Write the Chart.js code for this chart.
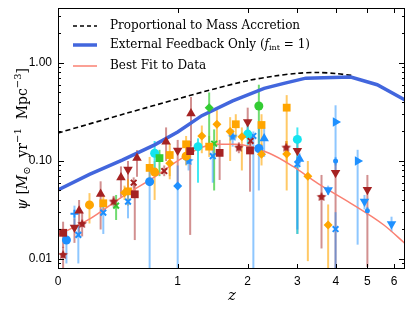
<!DOCTYPE html>
<html><head><meta charset="utf-8">
<script src="https://cdn.jsdelivr.net/npm/chart.js@4.4.0/dist/chart.umd.min.js"></script>
<style>html,body{margin:0;padding:0;background:#fff;}#wrap{width:415px;height:312px;position:relative;}</style>
</head><body><div id="wrap"><canvas id="c" width="415" height="312"></canvas></div>
<script>
// ---------- tick labels ----------
const xTickZ = [0, 1, 2, 3, 4, 5, 6];
const yTicks = [0.01, 0.1, 1];

// ---------- model curves ----------
const accretionZ   = [0, 0.5, 1, 1.5, 2, 2.5, 3, 3.5, 4, 4.5];
const accretionPsi = [0.193, 0.31, 0.43, 0.55, 0.66, 0.735, 0.785, 0.80, 0.78, 0.745];
const feedbackZ    = [0, 0.2, 0.45, 0.75, 1.0, 1.3, 1.75, 2.3, 2.7, 3.2, 4.45, 5.35, 6.46];
const feedbackPsi  = [0.0506, 0.073, 0.102, 0.146, 0.198, 0.29, 0.41, 0.55, 0.62, 0.70, 0.72, 0.60, 0.42];
const fitZ   = [0, 0.19, 0.45, 0.75, 1.0, 1.3, 1.55, 1.8, 2.4, 2.9, 3.5, 4.45, 5.6, 6.46];
const fitPsi = [0.0176, 0.025, 0.043, 0.069, 0.1, 0.138, 0.148, 0.148, 0.12, 0.088, 0.059, 0.037, 0.0222, 0.0144];

// ---------- observations (z, psi, lower, upper) ----------
const redUpZ = [0.13, 0.28, 0.44, 0.58, 0.87, 1.16];
const redUpPsi = [0.031, 0.046, 0.068, 0.107, 0.157, 0.306];
const redUpLo = [0.017, 0.020, 0.043, 0.069, 0.10, 0.14];
const redUpHi = [0.040, 0.062, 0.088, 0.129, 0.22, 0.45];

const redDownZ = [0.10, 0.50, 1.00, 2.00, 3.00, 3.99, 5.00];
const redDownPsi = [0.021, 0.082, 0.128, 0.25, 0.127, 0.076, 0.051];
const redDownLo = [0.0146, 0.047, 0.055, 0.19, 0.018, 0.008, 0.0083];
const redDownHi = [0.026, 0.10, 0.164, 0.35, 0.16, 0.10, 0.072];

const redSqZ = [0.03, 0.56, 1.15, 1.55, 2.04];
const redSqPsi = [0.0185, 0.0457, 0.126, 0.121, 0.128];
const redSqLo = [0.013, 0.0156, 0.0176, 0.064, 0.0486];
const redSqHi = [0.024, 0.0595, 0.16, 0.164, 0.16];

const redStarZ = [0.03, 0.15, 0.38, 1.85, 2.75, 3.60];
const redStarPsi = [0.011, 0.0228, 0.0385, 0.137, 0.137, 0.043];
const redStarLo = [0.008, 0.017, 0.034, 0.12, 0.12, 0.0128];
const redStarHi = [0.0133, 0.030, 0.044, 0.155, 0.16, 0.072];

const redXZ = [0.55, 0.85, 2.05];
const redXPsi = [0.060, 0.079, 0.16];
const redXLo = [0.052, 0.07, 0.14];
const redXHi = [0.068, 0.09, 0.18];

const orangeCircZ = [0.20, 0.75, 1.10];
const orangeCircPsi = [0.0356, 0.077, 0.112];
const orangeCircLo = [0.023, 0.04, 0.09];
const orangeCircHi = [0.047, 0.10, 0.14];

const orangeSqZ = [0.30, 0.50, 0.70, 0.91, 1.10, 1.40, 1.80, 2.25, 2.76];
const orangeSqPsi = [0.037, 0.049, 0.085, 0.115, 0.148, 0.14, 0.237, 0.233, 0.35];
const orangeSqLo = [0.03, 0.035, 0.06, 0.07, 0.12, 0.11, 0.17, 0.12, 0.05];
const orangeSqHi = [0.045, 0.065, 0.11, 0.15, 0.18, 0.18, 0.30, 0.30, 0.47];

const orangeDiaZ = [0.47, 0.91, 1.30, 1.51, 1.71, 1.90, 2.25, 2.76, 3.25, 3.78];
const orangeDiaPsi = [0.0475, 0.095, 0.18, 0.237, 0.20, 0.177, 0.117, 0.118, 0.070, 0.0222];
const orangeDiaLo = [0.04, 0.065, 0.12, 0.15, 0.10, 0.08, 0.09, 0.095, 0.0095, 0.0075];
const orangeDiaHi = [0.056, 0.125, 0.23, 0.33, 0.28, 0.22, 0.15, 0.16, 0.10, 0.036];

const greenDiaZ = [1.40], greenDiaPsi = [0.35], greenDiaLo = [0.14], greenDiaHi = [0.50];
const greenCircZ = [2.20], greenCircPsi = [0.364], greenCircLo = [0.13], greenCircHi = [0.60];
const greenSqZ = [0.80], greenSqPsi = [0.107], greenSqLo = [0.07], greenSqHi = [0.13];
const greenXZ = [0.40, 1.47], greenXPsi = [0.035, 0.15], greenXLo = [0.025, 0.05], greenXHi = [0.045, 0.21];

const cyanZ = [0.75, 1.25, 2.00, 3.00];
const cyanPsi = [0.12, 0.14, 0.188, 0.166];
const cyanLo = [0.08, 0.06, 0.14, 0.018];
const cyanHi = [0.16, 0.17, 0.24, 0.22];

const blueCircZ = [0.05, 0.70, 2.20];
const blueCircPsi = [0.0156, 0.0615, 0.134];
const blueCircLo = [0.009, 0.0079, 0.05];
const blueCircHi = [0.02, 0.08, 0.25];

const blueDiaZ = [1.00], blueDiaPsi = [0.0556], blueDiaLo = [0.0079], blueDiaHi = [0.09];

const blueXZ = [0.125, 0.30, 0.50, 1.45, 2.10, 3.00, 3.99];
const blueXPsi = [0.0176, 0.0297, 0.0385, 0.112, 0.18, 0.093, 0.0202];
const blueXLo = [0.009, 0.018, 0.026, 0.06, 0.0079, 0.02, 0.0079];
const blueXHi = [0.022, 0.04, 0.05, 0.14, 0.20, 0.11, 0.03];

const bluePlusZ = [0.10], bluePlusPsi = [0.029], bluePlusLo = [0.02], bluePlusHi = [0.035];

const blueStarZ = [1.13, 1.75], blueStarPsi = [0.10, 0.177], blueStarLo = [0.08, 0.14], blueStarHi = [0.12, 0.21];

const blueUpZ = [2.30, 3.05], blueUpPsi = [0.17, 0.105], blueUpLo = [0.11, 0.09], blueUpHi = [0.22, 0.12];

const blueDownZ = [3.78, 4.90, 5.90];
const blueDownPsi = [0.0506, 0.0385, 0.0228];
const blueDownLo = [0.045, 0.032, 0.019];
const blueDownHi = [0.056, 0.045, 0.027];

const blueRightZ = [3.99, 4.67], blueRightPsi = [0.25, 0.10], blueRightLo = [0.081, 0.014], blueRightHi = [0.37, 0.13];

const blueDotZ = [3.99, 5.00], blueDotPsi = [0.10, 0.031], blueDotLo = [0.09, 0.028], blueDotHi = [0.11, 0.034];

// ---------- styling ----------
const RED = '#a52222', ORANGE = '#ffa500', GREEN = '#33cc33', CYAN = '#14e4f0', BLUE = '#1e90ff';
const RED_ERR = 'rgba(165,34,34,0.5)', ORANGE_ERR = 'rgba(255,165,0,0.6)', GREEN_ERR = 'rgba(51,204,51,0.7)',
      CYAN_ERR = 'rgba(20,228,240,0.8)', BLUE_ERR = 'rgba(30,144,255,0.5)';

function starImage(color, r) {
  const c = document.createElement('canvas');
  c.width = c.height = Math.ceil(2 * r + 2);
  const g = c.getContext('2d');
  g.fillStyle = color;
  g.beginPath();
  const cx = c.width / 2, cy = c.height / 2;
  for (let i = 0; i < 10; i++) {
    const rr = i % 2 ? r * 0.5 : r;
    const a = -Math.PI / 2 + i * Math.PI / 5;
    g.lineTo(cx + rr * Math.cos(a), cy + rr * Math.sin(a));
  }
  g.closePath(); g.fill();
  return c;
}

const pts = (zs, ps) => zs.map((z, i) => ({ x: 1 + z, y: ps[i] }));

function obs(zs, ps, lo, hi, color, errColor, style, extra) {
  const filled = !(style === 'crossRot' || style === 'cross');
  return Object.assign({
    type: 'scatter',
    data: pts(zs, ps),
    errLo: lo, errHi: hi, errColor: errColor,
    backgroundColor: color,
    borderColor: color,
    borderWidth: filled ? 0 : 2,
    pointStyle: style,
    pointRadius: 4.5,
    order: 0
  }, extra || {});
}

const datasets = [
  { type: 'scatter', data: pts(accretionZ, accretionPsi), showLine: true, borderColor: '#000', borderWidth: 1.6,
    borderDash: [5, 3], pointRadius: 0, tension: 0.3, order: 2, label: 'Proportional to Mass Accretion' },
  { type: 'scatter', data: pts(feedbackZ, feedbackPsi), showLine: true, borderColor: '#4266dd', borderWidth: 3.5,
    pointRadius: 0, tension: 0, order: 1, label: 'External Feedback Only (f_int = 1)' },
  { type: 'scatter', data: pts(fitZ, fitPsi), showLine: true, borderColor: '#fa8072', borderWidth: 1.5,
    pointRadius: 0, cubicInterpolationMode: 'monotone', order: 1, label: 'Best Fit to Data' },

  obs(redUpZ, redUpPsi, redUpLo, redUpHi, RED, RED_ERR, 'triangle', { pointRadius: 5.5 }),
  obs(redDownZ, redDownPsi, redDownLo, redDownHi, RED, RED_ERR, 'triangle', { pointRadius: 5.5, pointRotation: 180 }),
  obs(redSqZ, redSqPsi, redSqLo, redSqHi, RED, RED_ERR, 'rect', { pointRadius: 5.5 }),
  obs(redStarZ, redStarPsi, redStarLo, redStarHi, RED, RED_ERR, starImage(RED, 5)),
  obs(redXZ, redXPsi, redXLo, redXHi, RED, RED_ERR, 'crossRot', { pointRadius: 4 }),
  obs(orangeCircZ, orangeCircPsi, orangeCircLo, orangeCircHi, ORANGE, ORANGE_ERR, 'circle', { pointRadius: 4.5 }),
  obs(orangeSqZ, orangeSqPsi, orangeSqLo, orangeSqHi, ORANGE, ORANGE_ERR, 'rect', { pointRadius: 5.5 }),
  obs(orangeDiaZ, orangeDiaPsi, orangeDiaLo, orangeDiaHi, ORANGE, ORANGE_ERR, 'rectRot', { pointRadius: 4.5 }),
  obs(greenDiaZ, greenDiaPsi, greenDiaLo, greenDiaHi, GREEN, GREEN_ERR, 'rectRot', { pointRadius: 4.5 }),
  obs(greenCircZ, greenCircPsi, greenCircLo, greenCircHi, GREEN, GREEN_ERR, 'circle', { pointRadius: 4.5 }),
  obs(greenSqZ, greenSqPsi, greenSqLo, greenSqHi, GREEN, GREEN_ERR, 'rect', { pointRadius: 5.5 }),
  obs(greenXZ, greenXPsi, greenXLo, greenXHi, GREEN, GREEN_ERR, 'crossRot', { pointRadius: 4 }),
  obs(cyanZ, cyanPsi, cyanLo, cyanHi, CYAN, CYAN_ERR, 'circle', { pointRadius: 4.5 }),
  obs(blueCircZ, blueCircPsi, blueCircLo, blueCircHi, BLUE, BLUE_ERR, 'circle', { pointRadius: 4.5 }),
  obs(blueDiaZ, blueDiaPsi, blueDiaLo, blueDiaHi, BLUE, BLUE_ERR, 'rectRot', { pointRadius: 4.5 }),
  obs(blueXZ, blueXPsi, blueXLo, blueXHi, BLUE, BLUE_ERR, 'crossRot', { pointRadius: 4 }),
  obs(bluePlusZ, bluePlusPsi, bluePlusLo, bluePlusHi, BLUE, BLUE_ERR, 'cross', { pointRadius: 4 }),
  obs(blueStarZ, blueStarPsi, blueStarLo, blueStarHi, BLUE, BLUE_ERR, starImage(BLUE, 5)),
  obs(blueUpZ, blueUpPsi, blueUpLo, blueUpHi, BLUE, BLUE_ERR, 'triangle', { pointRadius: 5.5 }),
  obs(blueDownZ, blueDownPsi, blueDownLo, blueDownHi, BLUE, BLUE_ERR, 'triangle', { pointRadius: 5.5, pointRotation: 180 }),
  obs(blueRightZ, blueRightPsi, blueRightLo, blueRightHi, BLUE, BLUE_ERR, 'triangle', { pointRadius: 5.5, pointRotation: 90 }),
  obs(blueDotZ, blueDotPsi, blueDotLo, blueDotHi, BLUE, BLUE_ERR, 'circle', { pointRadius: 2.5 })
];

const SERIF = '"DejaVu Serif", "Liberation Serif", serif';
const SANS = '"Liberation Sans", Arial, sans-serif';

function drawRich(ctx, segs, x, y) {
  for (const s of segs) {
    ctx.font = s.font;
    ctx.fillText(s.t, x, y + (s.dy || 0));
    x += ctx.measureText(s.t).width;
  }
}
function richWidth(ctx, segs) {
  let w = 0;
  for (const s of segs) { ctx.font = s.font; w += ctx.measureText(s.t).width; }
  return w;
}

const errorBars = {
  id: 'errorBars',
  beforeDatasetsDraw(chart) {
    const { ctx, chartArea: a, scales: { x, y } } = chart;
    ctx.save();
    ctx.beginPath(); ctx.rect(a.left, a.top, a.right - a.left, a.bottom - a.top); ctx.clip();
    ctx.lineWidth = 2;
    chart.data.datasets.forEach(ds => {
      if (!ds.errLo) return;
      ctx.strokeStyle = ds.errColor;
      ds.data.forEach((p, i) => {
        const px = x.getPixelForValue(p.x);
        ctx.beginPath();
        ctx.moveTo(px, y.getPixelForValue(ds.errLo[i]));
        ctx.lineTo(px, y.getPixelForValue(ds.errHi[i]));
        ctx.stroke();
      });
    });
    ctx.restore();
  }
};

const frameAndText = {
  id: 'frameAndText',
  afterDraw(chart) {
    const { ctx, chartArea: a, scales: { x, y } } = chart;
    ctx.save();
    ctx.strokeStyle = '#000'; ctx.lineWidth = 1;
    ctx.strokeRect(a.left + 0.5, a.top + 0.5, a.right - a.left - 1, a.bottom - a.top - 1);
    ctx.beginPath();
    for (let d = -3; d <= 1; d++) {
      for (let k = 1; k <= 9; k++) {
        const v = k * Math.pow(10, d);
        if (v < y.min || v > y.max) continue;
        const py = Math.round(y.getPixelForValue(v)) + 0.5;
        const len = k === 1 ? 6 : 3;
        ctx.moveTo(a.left, py); ctx.lineTo(a.left + len, py);
        ctx.moveTo(a.right, py); ctx.lineTo(a.right - len, py);
      }
    }
    xTickZ.forEach(z => {
      const px = Math.round(x.getPixelForValue(1 + z)) + 0.5;
      ctx.moveTo(px, a.bottom); ctx.lineTo(px, a.bottom - 5);
      ctx.moveTo(px, a.top); ctx.lineTo(px, a.top + 5);
    });
    ctx.stroke();

    // legend
    ctx.fillStyle = '#000';
    ctx.textBaseline = 'middle';
    const lx0 = 73, lx1 = 97, tx = 110;
    const rows = [26, 45, 66];
    ctx.lineWidth = 1.6; ctx.setLineDash([4, 3]); ctx.strokeStyle = '#000';
    ctx.beginPath(); ctx.moveTo(lx0, rows[0]); ctx.lineTo(lx1, rows[0]); ctx.stroke();
    ctx.setLineDash([]);
    ctx.lineWidth = 3.5; ctx.strokeStyle = '#4266dd';
    ctx.beginPath(); ctx.moveTo(lx0, rows[1]); ctx.lineTo(lx1, rows[1]); ctx.stroke();
    ctx.lineWidth = 1.5; ctx.strokeStyle = '#fa8072';
    ctx.beginPath(); ctx.moveTo(lx0, rows[2]); ctx.lineTo(lx1, rows[2]); ctx.stroke();
    const F = '12px ' + SERIF;
    drawRich(ctx, [{ t: 'Proportional to Mass Accretion', font: F }], tx, rows[0]);
    drawRich(ctx, [
      { t: 'External Feedback Only (', font: F },
      { t: 'f', font: 'italic 12px ' + SERIF },
      { t: 'int', font: '8px ' + SERIF, dy: 3 },
      { t: ' = 1)', font: F }], tx, rows[1]);
    drawRich(ctx, [{ t: 'Best Fit to Data', font: F }], tx, rows[2]);

    // axis titles
    ctx.textBaseline = 'alphabetic';
    const FT = '14px ' + SERIF, FI = 'italic 14px ' + SERIF, FS = '10px ' + SERIF;
    const ySegs = [
      { t: 'ψ', font: FI }, { t: ' [', font: FT }, { t: 'M', font: FI },
      { t: '⊙', font: FS, dy: 3 }, { t: '  yr', font: FT }, { t: '−1', font: FS, dy: -6 },
      { t: '  Mpc', font: FT }, { t: '−3', font: FS, dy: -6 }, { t: ']', font: FT }];
    ctx.save();
    ctx.translate(27, 139);
    ctx.rotate(-Math.PI / 2);
    drawRich(ctx, ySegs, -richWidth(ctx, ySegs) / 2, 0);
    ctx.restore();
    const xSegs = [{ t: 'z', font: 'italic 15px ' + SERIF }];
    drawRich(ctx, xSegs, 232 - richWidth(ctx, xSegs) / 2, 300);
    ctx.restore();
  }
};

new Chart(document.getElementById('c'), {
  type: 'scatter',
  data: { datasets },
  options: {
    responsive: false,
    devicePixelRatio: 1,
    animation: false,
    layout: { padding: { top: 8, right: 10, left: 0, bottom: 0 } },
    plugins: { legend: { display: false }, tooltip: { enabled: false } },
    scales: {
      x: {
        type: 'logarithmic', min: 1, max: 7.46,
        grid: { display: false, drawTicks: false }, border: { display: false },
        afterBuildTicks: s => { s.ticks = xTickZ.map(z => ({ value: 1 + z })); },
        afterFit: s => { s.height = 43; s.paddingLeft = 0; s.paddingRight = 0; },
        ticks: { autoSkip: false, maxRotation: 0, padding: 5, color: '#000',
          font: { family: SANS, size: 12 }, callback: v => String(Math.round(v - 1)) }
      },
      y: {
        type: 'logarithmic', min: 0.0079, max: 3.64,
        grid: { display: false, drawTicks: false }, border: { display: false },
        afterBuildTicks: s => { s.ticks = yTicks.map(v => ({ value: v })); },
        afterFit: s => { s.width = 58; s.paddingTop = 0; s.paddingBottom = 0; },
        ticks: { autoSkip: false, padding: 6, color: '#000',
          font: { family: SANS, size: 12 }, callback: v => Number(v).toFixed(2) }
      }
    }
  },
  plugins: [errorBars, frameAndText]
});
</script></body></html>
